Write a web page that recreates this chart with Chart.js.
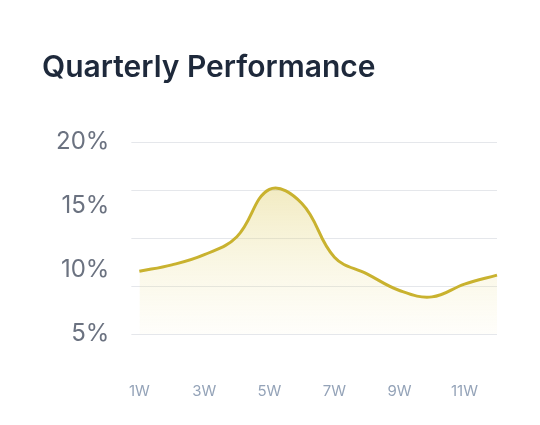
<!DOCTYPE html><html><head><script src="https://cdn.jsdelivr.net/npm/chart.js"></script>
<style>html,body{margin:0;overflow:hidden;background:#fff}#w{width:540px;height:440px}</style></head><body>
<div id="w"><canvas id="c"></canvas></div>
<script>
const categories=["1W","2W","3W","4W","5W","6W","7W","8W","9W","10W","11W","12W"];
const values=[9.9,10.4,11.2,12.6,16.3,15.2,11.0,9.7,8.4,7.9,8.9,9.6];
const yTicks=[5,10,15,20];
const ctx=document.getElementById('c').getContext('2d');
new Chart(ctx,{type:'line',data:{labels:categories,datasets:[{data:values,borderColor:'#c9b22f',borderWidth:3,pointRadius:0,tension:0.4,fill:'start',
backgroundColor:(c)=>{const a=c.chart.chartArea;if(!a)return 'rgba(220,200,90,0.3)';const g=c.chart.ctx.createLinearGradient(0,a.top,0,a.bottom);g.addColorStop(0,'rgba(215,195,80,0.5)');g.addColorStop(1,'rgba(240,230,160,0.05)');return g;}}]},
options:{responsive:true,maintainAspectRatio:false,animation:false,
layout:{padding:{left:42,right:43,top:20,bottom:0}},
plugins:{legend:{display:false},tooltip:{enabled:false},title:{display:true,text:'Quarterly Performance',align:'start',color:'#1e293b',font:{family:'Inter',size:30,weight:'600'},padding:{top:30,bottom:56}}},
scales:{x:{grid:{display:false},border:{display:false},ticks:{color:'#94a3b8',font:{family:'Inter',size:15},padding:40,maxRotation:0,autoSkip:false,callback:(v,i)=>i%2===0?categories[i]:''}},
y:{min:5,max:20,grid:{color:'#e5e7eb'},border:{display:false},ticks:{stepSize:3.75,display:false}},
y2:{position:'left',min:5,max:20,grid:{display:false},border:{display:false},afterBuildTicks:a=>{a.ticks=yTicks.map(v=>({value:v}));},ticks:{color:'#6b7280',font:{family:'Inter',size:24},padding:14,callback:v=>v+'%'}}}}});
</script></body></html>
